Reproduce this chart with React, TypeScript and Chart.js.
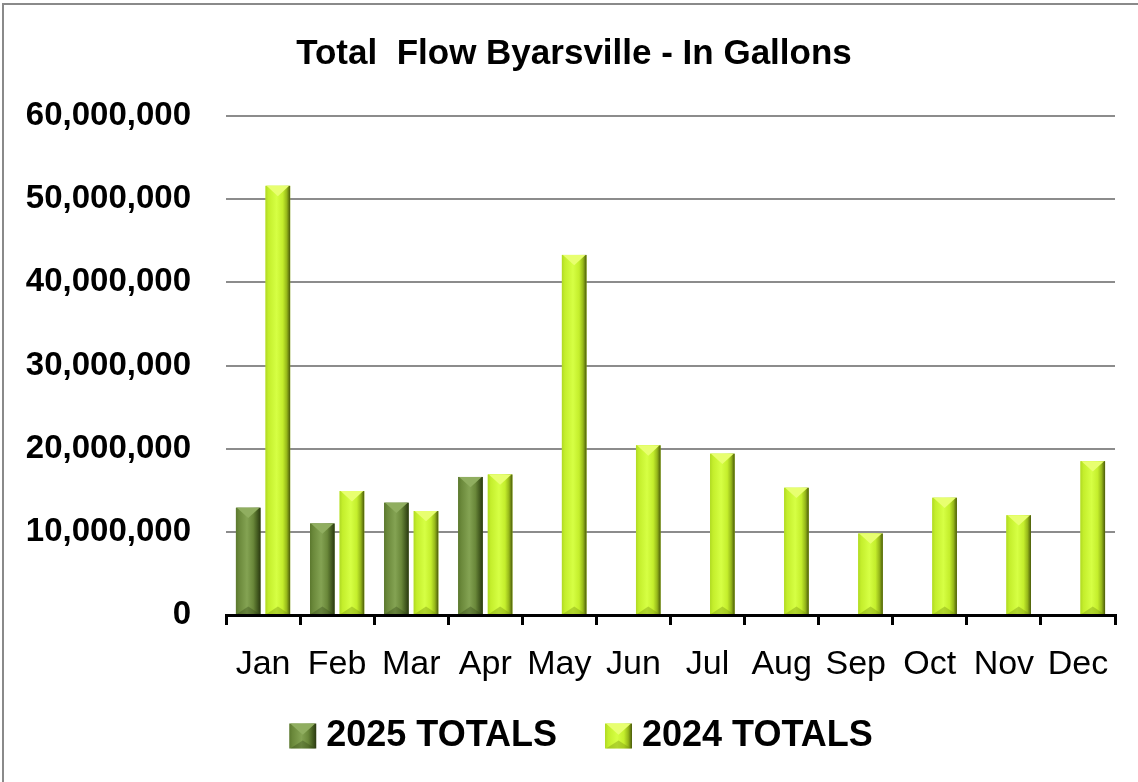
import React, { useEffect, useRef } from "react";
import { Chart, registerables } from "chart.js";

Chart.register(...registerables);

const months = ["Jan", "Feb", "Mar", "Apr", "May", "Jun", "Jul", "Aug", "Sep", "Oct", "Nov", "Dec"];
const totals2025: (number | null)[] = [12900000, 11000000, 13500000, 16600000, null, null, null, null, null, null, null, null];
const totals2024: number[] = [51600000, 14900000, 12500000, 16900000, 43300000, 20400000, 19400000, 15300000, 9800000, 14100000, 12000000, 18500000];
const yTicks = [0, 10000000, 20000000, 30000000, 40000000, 50000000, 60000000];
const seriesNames = ["2025 TOTALS", "2024 TOTALS"];
const chartTitle = "Total  Flow Byarsville - In Gallons";

const palettes = [
  { base: "#6a883a", edgeL: "#5b782e", light: "#84a353", dark: "#475f22", darkest: "#2a3811", top: "#90ae60", bottom: "rgba(50,70,20,0.35)" },
  { base: "#c4ee2c", edgeL: "#b0d924", light: "#d6ff44", dark: "#96b81a", darkest: "#4a5a0a", top: "#e8ff70", bottom: "rgba(120,150,15,0.4)" },
];

const LEGEND_BOX = 27;

function drawBevel(ctx: CanvasRenderingContext2D, l: number, t: number, w: number, h: number, p: any) {
  if (h <= 0 || w <= 0) return;
  const g = ctx.createLinearGradient(l, 0, l + w, 0);
  g.addColorStop(0, p.edgeL);
  g.addColorStop(0.12, p.base);
  g.addColorStop(0.45, p.light);
  g.addColorStop(0.7, p.base);
  g.addColorStop(0.86, p.dark);
  g.addColorStop(1, p.darkest);
  ctx.fillStyle = g;
  ctx.fillRect(l, t, w, h);
  const b = Math.min(w * 0.42, h / 2);
  ctx.fillStyle = p.top;
  ctx.beginPath();
  ctx.moveTo(l + 1, t);
  ctx.lineTo(l + w - 1, t);
  ctx.lineTo(l + w / 2, t + b);
  ctx.closePath();
  ctx.fill();
  const bb = Math.min(w * 0.3, h / 3);
  ctx.fillStyle = p.bottom;
  ctx.beginPath();
  ctx.moveTo(l + 1, t + h);
  ctx.lineTo(l + w - 1, t + h);
  ctx.lineTo(l + w / 2, t + h - bb);
  ctx.closePath();
  ctx.fill();
}

const bevelPlugin = {
  id: "bevel",
  afterLayout(chart: any) {
    // let tick labels extend into the margins without being clipped
    if (chart.scales.y) chart.scales.y.left = 0;
    if (chart.scales.x) chart.scales.x.bottom = chart.height;
    if (chart.legend) {
      chart.legend.left += 7;
      chart.legend.right += 7;
    }
  },
  beforeDraw(chart: any) {
    const ctx = chart.ctx as CanvasRenderingContext2D;
    ctx.save();
    ctx.strokeStyle = "#8a8a8a";
    ctx.lineWidth = 2;
    ctx.beginPath();
    ctx.moveTo(3, chart.height + 5);
    ctx.lineTo(3, 4);
    ctx.lineTo(chart.width + 5, 4);
    ctx.stroke();
    ctx.restore();
  },
  afterDatasetsDraw(chart: any) {
    const ctx = chart.ctx as CanvasRenderingContext2D;
    ctx.save();
    chart.data.datasets.forEach((ds: any, i: number) => {
      const meta = chart.getDatasetMeta(i);
      meta.data.forEach((el: any, j: number) => {
        if (ds.data[j] == null) return;
        const { x, y, base, width } = el.getProps(["x", "y", "base", "width"], true);
        drawBevel(ctx, x - width / 2, y, width, base - y, palettes[i]);
      });
    });
    ctx.restore();
  },
  afterDraw(chart: any) {
    const legend = chart.legend;
    if (!legend || !legend.legendHitBoxes) return;
    const ctx = chart.ctx as CanvasRenderingContext2D;
    const fs = legend.options.labels.font.size;
    ctx.save();
    legend.legendHitBoxes.forEach((hb: any, i: number) => {
      const top = hb.top + (fs - LEGEND_BOX) / 2 + 1;
      ctx.fillStyle = "#fff";
      ctx.fillRect(hb.left - 1, top - 2, LEGEND_BOX + 2, LEGEND_BOX + 4);
      drawBevel(ctx, hb.left, top, LEGEND_BOX, LEGEND_BOX - 2, palettes[i]);
    });
    ctx.restore();
  },
};

export default function App() {
  const ref = useRef<HTMLCanvasElement>(null);
  useEffect(() => {
    if (!ref.current) return;
    const chart = new Chart(ref.current, {
      type: "bar",
      data: {
        labels: months,
        datasets: [
          { label: seriesNames[0], data: totals2025, backgroundColor: palettes[0].base, borderWidth: 0 },
          { label: seriesNames[1], data: totals2024, backgroundColor: palettes[1].base, borderWidth: 0 },
        ],
      },
      options: {
        responsive: false,
        animation: false,
        devicePixelRatio: 1,
        layout: { padding: { left: 33, right: 23, top: 0, bottom: 18 } },
        datasets: { bar: { categoryPercentage: 0.8, barPercentage: 0.83 } },
        plugins: {
          tooltip: { enabled: false },
          title: {
            display: true,
            text: chartTitle,
            color: "#000",
            font: { family: "'Liberation Sans', Arial, sans-serif", weight: "bold", size: 35 },
            padding: { top: 33, bottom: 41 },
          },
          legend: {
            position: "bottom",
            labels: {
              boxWidth: 19,
              boxHeight: 19,
              padding: 48,
              color: "#000",
              font: { family: "'Liberation Sans', Arial, sans-serif", weight: "bold", size: 36 },
            },
          },
        },
        scales: {
          x: {
            offset: true,
            grid: { display: true, offset: true, drawOnChartArea: false, drawTicks: true, tickLength: 10, color: "#000", lineWidth: 3 },
            border: { display: true, color: "#000", width: 3 },
            ticks: {
              color: "#000",
              padding: 19,
              font: { family: "'Liberation Sans', sans-serif", size: 34 },
            },
            afterFit: (s: any) => { s.height = 55; },
          },
          y: {
            min: 0,
            max: 60000000,
            afterBuildTicks: (s: any) => { s.ticks = yTicks.map((v) => ({ value: v })); },
            ticks: {
              color: "#000",
              padding: 35,
              font: { family: "'Liberation Sans', Arial, sans-serif", weight: "bold", size: 33 },
              callback: (v: any) => Number(v).toLocaleString("en-US"),
            },
            grid: { color: "#8c8c8c", lineWidth: 2, drawTicks: false },
            border: { display: false },
            afterFit: (s: any) => { s.width = 193; },
          },
        },
      },
      plugins: [bevelPlugin],
    });
    return () => chart.destroy();
  }, []);
  return (
    <div style={{ position: "fixed", left: 0, top: 0, width: 1138, height: 782, background: "#fff", overflow: "hidden" }}>
      <canvas ref={ref} width={1138} height={782} style={{ display: "block" }} />
    </div>
  );
}
